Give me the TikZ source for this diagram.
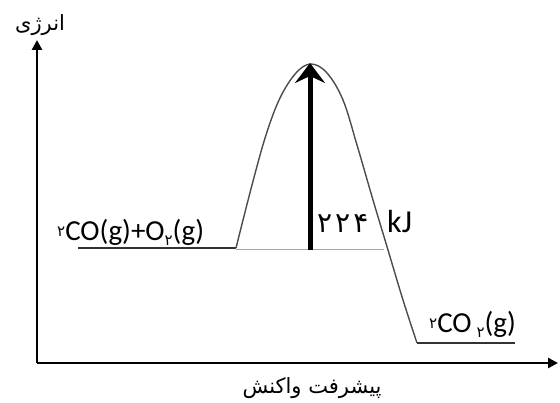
\documentclass[tikz,border=0pt]{standalone}
\usepackage{fontspec}
\setmainfont{Carlito}
\newfontfamily\fa[Script=Arabic]{DejaVu Sans}
\TeXXeTstate=1
\usetikzlibrary{arrows.meta}
\newcommand{\pdig}[1]{{\fa\fontsize{15}{17}\selectfont #1}}
\newcommand{\bdig}[1]{{\fa\fontsize{28}{30}\selectfont #1}}
\begin{document}
\begin{tikzpicture}[x=1pt,y=-1pt,
  axis/.style={line width=2.6pt,-{Triangle[length=10pt,width=10pt]}},
  level/.style={line width=2pt,draw=black!80},
  curve/.style={line width=1.4pt,draw=black!70},
  lbl/.style={font=\fontsize{29}{32}\selectfont,inner sep=0pt},
  fatxt/.style={font=\fa\fontsize{21}{24}\selectfont,inner sep=0pt}]
\useasboundingbox (0,0) rectangle (560,403);
% axes
\coordinate (O) at (37,363);
\coordinate (ytop) at (37,40);
\coordinate (xend) at (558,363);
\draw[axis] (O) -- (ytop);
\draw[axis] (O) -- (xend);
% levels
\coordinate (r1) at (78,248);
\coordinate (r2) at (236,248);
\coordinate (p1) at (417,343);
\coordinate (p2) at (515,343);
\draw[level] (r1) -- (r2);
\draw[level] (p1) -- (p2);
% curve
\draw[curve] plot[smooth,tension=0.6] coordinates {(236,248) (252,185) (266,135) (280,98) (296,73) (311,64) (327,73) (343,100) (357,145) (373,200) (388,250) (403,300) (417,343)};
% gray reference line
\coordinate (g1) at (236,250);
\coordinate (g2) at (384,250);
\draw[line width=1pt,draw=black!35] (g1) -- (g2);
% energy arrow
\coordinate (a1) at (310,250);
\coordinate (a2) at (310,63);
\draw[line width=5pt,-{Stealth[length=20pt,width=30pt,inset=7pt]}] (a1) -- (a2);
% labels
\node[lbl,anchor=base west] (rlab) at (57,241) {\raisebox{4pt}{\pdig{۲}}CO(g)+O\raisebox{-5pt}{\pdig{۲}}(g)};
\node[lbl,anchor=base west] (plab) at (429,333) {\raisebox{4pt}{\pdig{۲}}CO\,\raisebox{-5pt}{\pdig{۲}}(g)};
\node[lbl,anchor=base west] (dlab) at (317,233) {\bdig{۲}\hspace{3pt}\bdig{۲}\hspace{3pt}\bdig{۴}};
\node[lbl,anchor=base west,font=\fontsize{32}{34}\selectfont] (klab) at (387,233) {kJ};
\node[fatxt] (ylab) at (40,25) {\beginR انرژی\endR};
\node[fatxt] (xlab) at (312,388) {\beginR پیشرفت واکنش\endR};
\end{tikzpicture}
\end{document}
